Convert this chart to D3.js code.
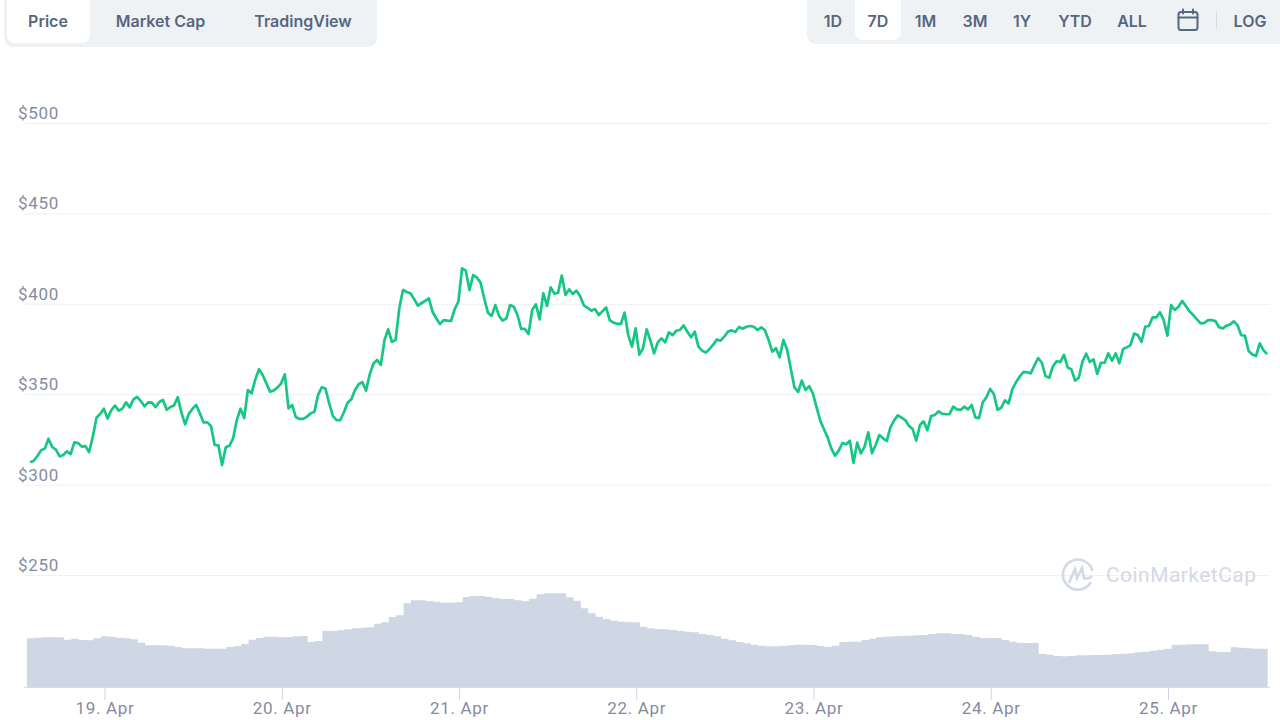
<!DOCTYPE html>
<html>
<head>
<meta charset="utf-8">
<script src="https://cdn.jsdelivr.net/npm/d3@7"></script>
<style>
  html, body { margin: 0; padding: 0; background: #fff; overflow: hidden; }
  svg { display: block; }
  .axis-text { font-family: Roboto, sans-serif; font-size: 17px; fill: #858ca2; letter-spacing: 0.7px; }
  .btn { font-family: Inter, sans-serif; font-size: 16px; font-weight: 600; fill: #58667e; text-anchor: middle; }
</style>
</head>
<body>
<svg id="chart" width="1280" height="720"></svg>
<script>
const priceTicks = [250, 300, 350, 400, 450, 500];
const leftTabs = ['Price', 'Market Cap', 'TradingView'];
const rangeTabs = ['1D', '7D', '1M', '3M', '1Y', 'YTD', 'ALL'];

// price in USD, one reading every 30 min from 18 Apr 13:55
const priceValues = [
  312.3, 313.2, 315.8, 319, 319.9, 325.4, 320.8, 319.3, 315.6, 316.4, 318.4, 316.9,
  323.4, 323, 321, 321.3, 318, 326.5, 337, 339.1, 342, 336.5, 341.1, 343.7,
  340.9, 342, 345.5, 342.7, 347.1, 348.5, 346.2, 343.3, 345.5, 345.3, 342.9, 345.7,
  346.8, 341.4, 342.9, 343.8, 348.3, 339.8, 333.3, 339.1, 342, 344, 339.4, 334.4,
  334.4, 332.4, 321.9, 321.7, 310.8, 320.6, 321.5, 325.6, 335.7, 342, 336.8, 352.3,
  350.5, 358.2, 363.8, 360.6, 356, 351.4, 352.1, 353.6, 356, 361, 342.2, 344,
  337.2, 336.3, 336.3, 337.6, 339.4, 340.3, 349.6, 353.8, 353.1, 345, 338, 335.7,
  335.6, 340, 345.3, 347.2, 352.3, 355.5, 356.6, 352, 361, 367, 368.9, 366.2,
  380, 385.9, 379, 380, 397.5, 407.6, 406.5, 405.8, 402.7, 399, 400.3, 401.6,
  403, 395.6, 392, 388.8, 391, 390.7, 390.5, 397, 401.2, 419.6, 418.3, 407.6,
  415.9, 414.6, 411.7, 403, 395.1, 393.3, 399.3, 393.3, 390.7, 392, 399.3, 398.4,
  393.8, 386.1, 386.1, 383.3, 396.6, 399.7, 391.4, 405.8, 398.8, 409.1, 405.6, 406.2,
  415.6, 404.9, 408, 405.4, 407.3, 404, 399, 397.7, 396.2, 397.1, 393.8, 395.8,
  398, 390.9, 389.6, 389, 388.8, 395.1, 382.7, 376.3, 386.4, 371.9, 375.4, 385.9,
  379.6, 372.6, 378.7, 380.9, 378.7, 384.2, 382.7, 385.1, 385.5, 388.1, 384.6, 381.5,
  384.6, 376.3, 374.1, 373, 375, 377.4, 380.3, 379.6, 381.8, 384.6, 385.3, 384.4,
  387.2, 386.2, 387.3, 387.7, 387.3, 385.5, 387, 385.5, 380, 373.5, 375.4, 370.4,
  380, 374.8, 364.3, 353.8, 351.2, 357.5, 352.3, 354.5, 350.5, 342.7, 335.4, 330.6,
  326.1, 319.9, 316, 318.8, 323, 322.3, 324.3, 312.1, 323.2, 317.3, 321, 328.9,
  317.3, 321.9, 327.4, 325.6, 324.1, 331.7, 335.5, 338.3, 337, 335.7, 332.6, 330.8,
  324.3, 333, 335, 330, 337.9, 338.5, 340.5, 339.2, 339, 338.9, 343.1, 341.6,
  341.3, 343.1, 341.6, 344, 337.2, 336.8, 345.5, 348.3, 352.9, 350.1, 341.3, 342.5,
  346.6, 344.9, 352.7, 356.6, 359.7, 362.3, 362.1, 361.5, 366, 370, 367.4, 360,
  359.1, 365.4, 368.2, 367.8, 371.7, 364.8, 363.7, 357.5, 359.1, 368, 372.4, 367.8,
  369.3, 361.2, 367.4, 367.4, 372.6, 368.5, 372.6, 367.1, 375, 375.9, 377.2, 383.5,
  382.7, 379, 387.3, 387.7, 392.5, 392.5, 395.3, 391, 382.4, 399.3, 396.6, 398.4,
  401.6, 398.8, 395.8, 393.8, 391.4, 389.2, 389.4, 391, 391, 390.5, 387, 386.4,
  387.9, 388.6, 390.3, 388.1, 382.6, 382.4, 373.9, 372, 371.1, 378.1, 374.4, 372.2
];

// volume in billions USD, one reading per hour from 18 Apr 13:30
const volumeValues = [
  4.87, 4.93, 4.97, 4.97, 4.97, 4.73, 4.83, 4.7, 4.67, 4.87, 5.07, 5.03,
  4.93, 4.87, 4.77, 4.43, 4.17, 4.17, 4.17, 4.13, 4, 3.87, 3.87, 3.87,
  3.83, 3.83, 3.83, 4, 4.1, 4.3, 4.73, 4.9, 5.03, 5.03, 4.97, 5,
  5.07, 5.1, 4.5, 4.6, 5.63, 5.6, 5.67, 5.77, 5.87, 5.93, 5.97, 6.33,
  6.47, 7, 7.17, 8.37, 8.67, 8.67, 8.6, 8.53, 8.43, 8.43, 8.47, 9,
  9.1, 9.1, 9.03, 8.9, 8.8, 8.8, 8.67, 8.6, 8.83, 9.27, 9.37, 9.37,
  9.37, 8.97, 8.63, 7.87, 7.37, 7.03, 6.8, 6.63, 6.53, 6.47, 6.47, 6.03,
  5.87, 5.8, 5.77, 5.7, 5.6, 5.53, 5.47, 5.3, 5.2, 5.07, 4.83, 4.67,
  4.5, 4.37, 4.23, 4.13, 4.07, 4.07, 4.13, 4.17, 4.23, 4.23, 4.2, 4.1,
  4, 4.13, 4.5, 4.53, 4.53, 4.7, 4.83, 4.97, 5.03, 5.07, 5.1, 5.13,
  5.17, 5.2, 5.3, 5.37, 5.37, 5.33, 5.3, 5.2, 5.03, 4.9, 4.9, 4.9,
  4.7, 4.53, 4.4, 4.4, 4.4, 3.3, 3.23, 3.1, 3.07, 3.1, 3.17, 3.17,
  3.2, 3.2, 3.23, 3.3, 3.33, 3.37, 3.47, 3.53, 3.63, 3.73, 3.83, 4.2,
  4.23, 4.27, 4.27, 4.27, 3.57, 3.5, 3.5, 3.97, 3.93, 3.87, 3.83, 3.83, 3.8
];

const priceStart = Date.UTC(2021, 3, 18, 13, 55);
const volumeStart = Date.UTC(2021, 3, 18, 13, 30);
const halfHour = 30 * 60 * 1000;
const hour = 60 * 60 * 1000;

const svg = d3.select('#chart');

const x = d3.scaleUtc()
  .domain([Date.UTC(2021, 3, 19), Date.UTC(2021, 3, 25)])
  .range([104.5, 1168]);
const y = d3.scaleLinear().domain([250, 500]).range([575, 123]);
const yVol = d3.scaleLinear().domain([0, 10]).range([687, 587]);

// grid lines and price labels
const yAxis = svg.append('g')
  .attr('transform', 'translate(25,0)')
  .call(d3.axisRight(y).tickValues(priceTicks).tickSize(1245).tickFormat(d => '$' + d));
yAxis.select('.domain').remove();
yAxis.selectAll('line').attr('stroke', '#eff1f3');
yAxis.selectAll('text')
  .attr('class', 'axis-text')
  .attr('x', -7)
  .attr('dy', 0)
  .attr('y', -4.5)
  .attr('text-anchor', 'start');

// volume area
const volumeArea = d3.area()
  .x((d, i) => x(volumeStart + i * hour))
  .y0(yVol(0))
  .y1(d => yVol(d))
  .curve(d3.curveStepAfter);
svg.append('path')
  .datum(volumeValues)
  .attr('fill', '#cfd6e4')
  .attr('d', volumeArea);

// date axis
const xAxis = svg.append('g')
  .attr('transform', 'translate(0,687)')
  .call(d3.axisBottom(x).ticks(d3.utcDay.every(1)).tickSize(13).tickFormat(d3.utcFormat('%-d. %b')));
xAxis.select('.domain').remove();
xAxis.selectAll('line').attr('stroke', '#ccd6eb');
xAxis.selectAll('text').attr('class', 'axis-text').attr('y', 15).attr('dy', '0.71em');
svg.append('line')
  .attr('x1', 24).attr('x2', 1270).attr('y1', 687.5).attr('y2', 687.5)
  .attr('stroke', '#d6dce9');

// price line
const priceLine = d3.line()
  .x((d, i) => x(priceStart + i * halfHour))
  .y(d => y(d));
svg.append('path')
  .datum(priceValues)
  .attr('fill', 'none')
  .attr('stroke', '#16c784')
  .attr('stroke-width', 2.7)
  .attr('stroke-linejoin', 'round')
  .attr('d', priceLine);

// watermark
const mark = svg.append('g').attr('transform', 'translate(1078,574)')
  .attr('fill', 'none').attr('stroke', '#d3d9e6').attr('stroke-width', 2.6);
mark.append('path').attr('d', 'M13,8 A15,15 0 1 1 14.5,-3');
mark.append('path').attr('d', 'M-9,9 L-3,-5 L-1,4 L4,-6 L6,4 Q10,6 14,2');
svg.append('text')
  .attr('x', 1106).attr('y', 582)
  .attr('font-family', 'Roboto, sans-serif')
  .attr('font-size', 21)
  .attr('letter-spacing', 0.45)
  .attr('fill', '#d3d9e6')
  .text('CoinMarketCap');

// left tab bar
svg.append('rect').attr('x', 4).attr('y', -12).attr('width', 373).attr('height', 59).attr('rx', 9).attr('fill', '#eff2f5');
svg.append('rect').attr('x', 7).attr('y', -12).attr('width', 83).attr('height', 55).attr('rx', 8).attr('fill', '#fff');
const leftX = [48, 160.5, 303];
svg.selectAll('.left-tab').data(leftTabs).enter().append('text')
  .attr('class', 'btn left-tab')
  .attr('x', (d, i) => leftX[i])
  .attr('y', 26.5)
  .text(d => d);

// right range bar
svg.append('rect').attr('x', 807).attr('y', -12).attr('width', 485).attr('height', 56).attr('rx', 9).attr('fill', '#eff2f5');
svg.append('rect').attr('x', 855).attr('y', -12).attr('width', 46).attr('height', 52).attr('rx', 8).attr('fill', '#fff');
const rangeX = [833, 878, 925.5, 975, 1022, 1075, 1132];
svg.selectAll('.range-tab').data(rangeTabs).enter().append('text')
  .attr('class', 'btn range-tab')
  .attr('x', (d, i) => rangeX[i])
  .attr('y', 26.5)
  .text(d => d);
svg.append('text').attr('class', 'btn').attr('x', 1250).attr('y', 26.5).text('LOG');
svg.append('line').attr('x1', 1216.5).attr('x2', 1216.5).attr('y1', 12).attr('y2', 29).attr('stroke', '#d5dae3');

// calendar icon
const cal = svg.append('g').attr('transform', 'translate(1188,20)')
  .attr('fill', 'none').attr('stroke', '#58667e').attr('stroke-width', 2).attr('stroke-linecap', 'round');
cal.append('rect').attr('x', -9.5).attr('y', -8).attr('width', 19).attr('height', 18).attr('rx', 2.5);
cal.append('path').attr('d', 'M-9.5,-2.5 H9.5 M-5,-10.5 V-6.5 M5,-10.5 V-6.5');
</script>
</body>
</html>
